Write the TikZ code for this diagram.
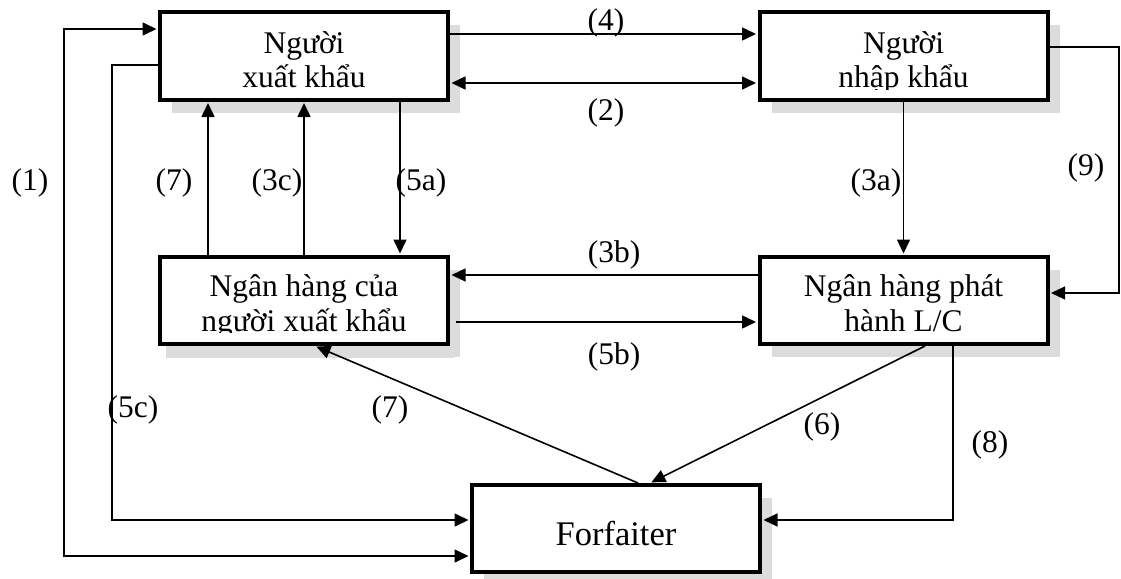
\documentclass[tikz,border=0pt]{standalone}
\usepackage{fontspec}
\setmainfont{Liberation Serif}
\usetikzlibrary{arrows.meta,shadows}
\definecolor{shadowgray}{HTML}{DCDCDC}
\begin{document}
\begin{tikzpicture}[x=1pt,y=-1pt,
  partybox/.style={draw, line width=4pt, fill=white, inner sep=0pt,
    minimum width=288pt, minimum height=87pt,
    general shadow={fill=shadowgray, shadow xshift=12pt, shadow yshift=-13pt}},
  boxtxt/.style={font=\fontsize{31.5pt}{35pt}\selectfont, inner sep=0pt, anchor=base},
  lbl/.style={font=\fontsize{31.5pt}{35pt}\selectfont, inner sep=0pt},
  conn/.style={draw, line width=1.6pt, shorten >=1.5pt,
    -{Triangle[length=14pt,width=13pt]}},
  connboth/.style={conn, shorten <=1.5pt,
    {Triangle[length=14pt,width=13pt]}-{Triangle[length=14pt,width=13pt]}},
  fine/.style={line width=1.1pt}]
\useasboundingbox[fill=white] (0,0) rectangle (1121,578);

% parties
\node[partybox] (b1) at (304,56) {};
\node[partybox] (b2) at (903.5,56) {};
\node[partybox, general shadow={fill=shadowgray, shadow xshift=6pt, shadow yshift=-14pt}] (b3) at (304,300.5) {};
\node[partybox] (b4) at (903.5,300.5) {};
\node[partybox] (b5) at (616,528.5) {};

% box captions, cut off at the lower text line
\begin{scope}
  \clip (b1.north west) rectangle (b1.east |- 0,89);
  \node[boxtxt] (t1a) at (304,53) {Người};
  \node[boxtxt] (t1b) at (304,88) {xuất khẩu};
\end{scope}
\begin{scope}
  \clip (b2.north west) rectangle (b2.east |- 0,89);
  \node[boxtxt] (t2a) at (903.5,53) {Người};
  \node[boxtxt] (t2b) at (903.5,88) {nhập khẩu};
\end{scope}
\begin{scope}
  \clip (b3.north west) rectangle (b3.east |- 0,332);
  \node[boxtxt] (t3a) at (304,296) {Ngân hàng của};
  \node[boxtxt] (t3b) at (304,331) {người xuất khẩu};
\end{scope}
\begin{scope}
  \clip (b4.north west) rectangle (b4.east |- 0,332);
  \node[boxtxt] (t4a) at (903.5,296) {Ngân hàng phát};
  \node[boxtxt] (t4b) at (903.5,331) {hành L/C};
\end{scope}
\node[boxtxt, font=\fontsize{34.5pt}{38pt}\selectfont] (t5) at (616,545) {Forfaiter};

% connectors
\draw[connboth] (b1.west |- 0,29) -| (64,556) -- (b5.west |- 0,556);
\draw[conn] (b1.west |- 0,65) -| (112,520) -- (b5.west |- 0,520);
\draw[conn] (b3.north -| 208,0) -- (b1.south -| 208,0);
\draw[conn] (b3.north) -- (b1.south);
\draw[conn] (b1.south -| 400,0) -- (b3.north -| 400,0);
\draw[conn] (b1.east |- 0,34) -- (b2.west |- 0,34);
\draw[connboth] (b1.east |- 0,83) -- (b2.west |- 0,83);
\draw[conn] (b2.south) -- (b4.north);
\draw[conn, fine] (b2.east |- 0,47) -| (1119,293) -- (b4.east |- 0,293);
\draw[conn, line width=1.3pt] (b4.west |- 0,275) -- (b3.east |- 0,275);
\draw[conn, shorten <=6pt] (b3.east |- 0,322) -- (b4.west |- 0,322);
\draw[conn] (b5.north -| 638,0) -- (b3.south -| 315,0);
\draw[conn] (b4.south -| 925,0) -- (b5.north -| 650,0);
\draw[conn, fine] (b4.south -| 953,0) |- (b5.east |- 0,520);

% step numbers
\node[lbl] (l1) at (30,183) {(1)};
\node[lbl] (l7a) at (174,183) {(7)};
\node[lbl] (l3c) at (277,183) {(3c)};
\node[lbl] (l5a) at (421,183) {(5a)};
\node[lbl] (l4) at (606,23) {(4)};
\node[lbl] (l2) at (606,113) {(2)};
\node[lbl] (l3a) at (876,183) {(3a)};
\node[lbl] (l9) at (1086,168) {(9)};
\node[lbl] (l3b) at (614,255) {(3b)};
\node[lbl] (l5b) at (614,357) {(5b)};
\node[lbl] (l5c) at (133,410) {(5c)};
\node[lbl] (l7b) at (390,410) {(7)};
\node[lbl] (l6) at (822,427) {(6)};
\node[lbl] (l8) at (990,445) {(8)};
\end{tikzpicture}
\end{document}
